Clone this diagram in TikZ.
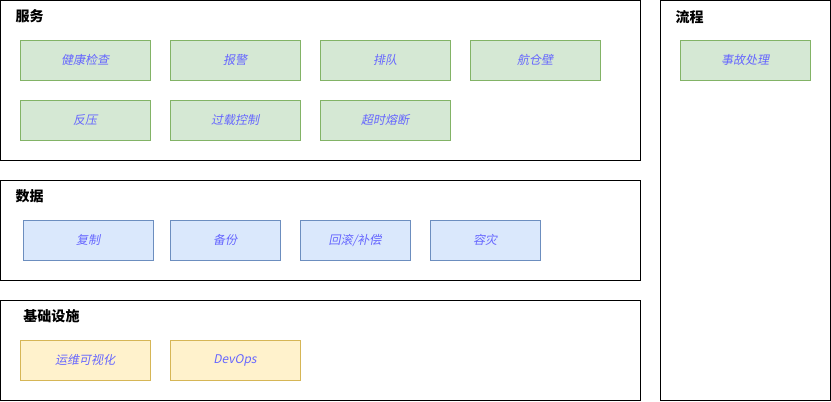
\documentclass[tikz,border=0pt]{standalone}
\usepackage{fontspec}
\newfontfamily\cjk{Noto Sans CJK SC}
\newfontfamily\cjkit[FakeSlant=0.2]{Noto Sans CJK SC}

\definecolor{grnfill}{RGB}{213,232,212}
\definecolor{grnline}{RGB}{130,179,102}
\definecolor{blufill}{RGB}{218,232,252}
\definecolor{bluline}{RGB}{108,142,191}
\definecolor{ylwfill}{RGB}{255,242,204}
\definecolor{ylwline}{RGB}{214,182,86}
\definecolor{itemtext}{RGB}{102,102,255}

\tikzset{every picture/.style={line width=0.75pt}}
\tikzset{
  frame/.style={draw=black, anchor=north west, inner sep=0pt},
  title/.style={anchor=west, inner sep=0.75pt, font=\cjk\bfseries\fontsize{10.5}{12}\selectfont},
  item/.style={draw, minimum width=97.5pt, minimum height=30pt, inner sep=0pt,
    text=itemtext, font=\cjkit\fontsize{9}{11}\selectfont},
  svc/.style={item, fill=grnfill, draw=grnline},
  dat/.style={item, fill=blufill, draw=bluline, minimum width=82.5pt},
  infra/.style={item, fill=ylwfill, draw=ylwline}
}

\begin{document}
\begin{tikzpicture}[x=0.75pt,y=0.75pt,yscale=-1,xscale=1]
\useasboundingbox (0,0) rectangle (831,401);

%Shape: Rectangle [frames]
\draw (0.5,0.5) rectangle (640,160);
\draw (0.5,180.5) rectangle (640,280);
\draw (0.5,300.5) rectangle (640,400);
\draw (660.5,0.5) rectangle (830,400);

% Text Node
\node [title] (tsvc) at (14,16) {服务};
\node [title] (tdat) at (14,196) {数据};
\node [title] (tinf) at (22,316) {基础设施};
\node [title] (tflow) at (674,17) {流程};

% services
\node [svc] (jkjc) at (85,60) {健康检查};
\node [svc] (bj) at (235,60) {报警};
\node [svc] (pd) at (385,60) {排队};
\node [svc] (hcb) at (535,60) {航仓壁};
\node [svc] (fy) at (85,120) {反压};
\node [svc] (gzkz) at (235,120) {过载控制};
\node [svc] (csrd) at (385,120) {超时熔断};

% data
\node [dat, minimum width=97.5pt] (fz) at (88,240) {复制};
\node [dat] (bf) at (225,240) {备份};
\node [dat] (hgbc) at (355,240) {回滚/补偿};
\node [dat] (rz) at (485,240) {容灾};

% infrastructure
\node [infra] (ywksh) at (85,360) {运维可视化};
\node [infra] (devops) at (235,360) {DevOps};

% process
\node [svc] (sgcl) at (745,60) {事故处理};

\end{tikzpicture}
\end{document}
